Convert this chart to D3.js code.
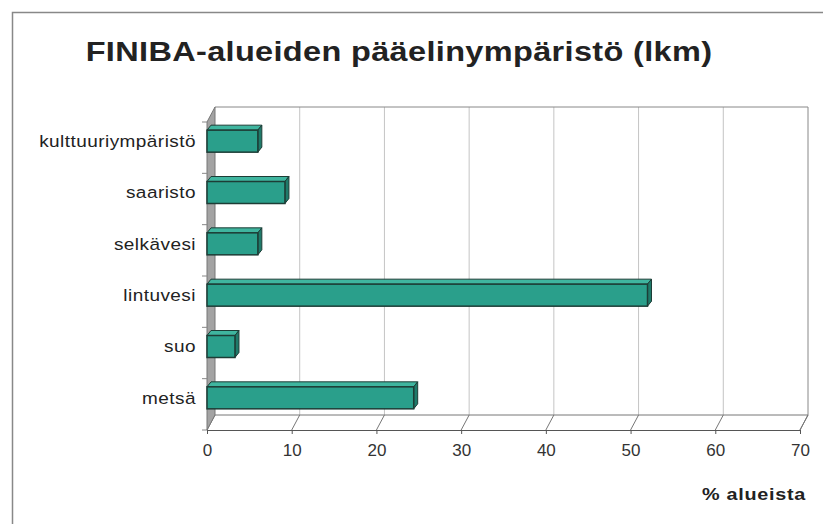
<!DOCTYPE html>
<html>
<head>
<meta charset="utf-8">
<script src="https://cdn.jsdelivr.net/npm/d3@7"></script>
<style>
  body { margin: 0; background: #fff; }
  svg { display: block; font-family: "Liberation Sans", Arial, sans-serif; }
</style>
</head>
<body>
<svg width="823" height="524"></svg>
<script>
const categories = ["kulttuuriympäristö", "saaristo", "selkävesi", "lintuvesi", "suo", "metsä"];
const values = [6, 9.2, 6, 52, 3.3, 24.4];
const xTicks = [0, 10, 20, 30, 40, 50, 60, 70];

const svg = d3.select("svg");

// outer frame (top + left only visible)
svg.append("path")
  .attr("d", "M823,12.5 H12.5 V524")
  .attr("fill", "none").attr("stroke", "#888").attr("stroke-width", 1.5);

// depth offset of the 3D box
const dx = 8, dy = -15;

const x = d3.scaleLinear().domain([0, 70]).range([207, 800]);
const y = d3.scaleBand().domain(categories).range([122, 430]);

const g = svg.append("g");

// back wall gridlines
g.selectAll(".grid").data(xTicks.slice(1, -1)).enter().append("line")
  .attr("x1", d => x(d) + dx).attr("x2", d => x(d) + dx)
  .attr("y1", 122 + dy).attr("y2", 430 + dy)
  .attr("stroke", "#c4c4c4").attr("stroke-width", 1);

// back wall outline (top + right)
g.append("path")
  .attr("d", `M${x(0) + dx},${122 + dy} H${x(70) + dx} V${430 + dy}`)
  .attr("fill", "none").attr("stroke", "#888").attr("stroke-width", 1);

// floor
g.append("path")
  .attr("d", `M${x(0) + dx},${430 + dy} H${x(70) + dx} L${x(70)},430`)
  .attr("fill", "none").attr("stroke", "#777").attr("stroke-width", 1);
g.selectAll(".floor").data(xTicks).enter().append("line")
  .attr("x1", d => x(d)).attr("y1", 430)
  .attr("x2", d => x(d) + dx).attr("y2", 430 + dy)
  .attr("stroke", "#777").attr("stroke-width", 1);

// left wall
g.append("path")
  .attr("d", `M${x(0)},122 L${x(0) + dx},${122 + dy} V${430 + dy} L${x(0)},430 Z`)
  .attr("fill", "#a3a3a3").attr("stroke", "#777").attr("stroke-width", 1);

// category ticks on left wall edge
g.selectAll(".ctick").data(d3.range(categories.length + 1)).enter().append("line")
  .attr("x1", x(0) - 5).attr("x2", x(0))
  .attr("y1", i => 122 + i * y.step()).attr("y2", i => 122 + i * y.step())
  .attr("stroke", "#888");

// x axis (front edge)
const xAxis = svg.append("g")
  .attr("transform", "translate(0,430)")
  .call(d3.axisBottom(x).tickValues(xTicks).tickSize(4).tickPadding(10));
xAxis.select(".domain").attr("stroke", "#555");
xAxis.selectAll(".tick line").attr("stroke", "#555");
xAxis.selectAll("text")
  .attr("font-size", 17).attr("fill", "#333")
  .attr("font-family", "Liberation Sans, Arial, sans-serif");

// bars: front face at mid depth, small box depth
const bh = 22, bdx = 4, bdy = -5, shiftY = -6.5;
const bars = g.selectAll(".bar").data(categories).enter().append("g");
bars.each(function (c, i) {
  const sel = d3.select(this);
  const x0 = x(0), x1 = x(values[i]);
  const yt = y(c) + y.bandwidth() / 2 + shiftY - bh / 2;
  const yb = yt + bh;
  // top face
  sel.append("path")
    .attr("d", `M${x0},${yt} L${x0 + bdx},${yt + bdy} H${x1 + bdx} L${x1},${yt} Z`)
    .attr("fill", "#3fb59f").attr("stroke", "#1d3d36").attr("stroke-width", 1);
  // side face
  sel.append("path")
    .attr("d", `M${x1},${yt} L${x1 + bdx},${yt + bdy} V${yb + bdy} L${x1},${yb} Z`)
    .attr("fill", "#1f7a6a").attr("stroke", "#1d3d36").attr("stroke-width", 1);
  // front face
  sel.append("rect")
    .attr("x", x0).attr("y", yt).attr("width", x1 - x0).attr("height", bh)
    .attr("fill", "#2a9f8b").attr("stroke", "#1d3d36").attr("stroke-width", 1.5);
});

// category labels (scan looks horizontally stretched)
svg.selectAll(".clabel").data(categories).enter().append("text")
  .attr("transform", d => `translate(196,${y(d) + y.bandwidth() / 2 + shiftY}) scale(1.15,1)`)
  .attr("dy", "0.35em")
  .attr("text-anchor", "end")
  .attr("font-size", 16.5).attr("letter-spacing", 0.4).attr("fill", "#222")
  .text(d => d);

// title
svg.append("text")
  .attr("transform", "translate(399,61) scale(1.16,1)")
  .attr("text-anchor", "middle")
  .attr("font-size", 28).attr("font-weight", "bold").attr("letter-spacing", 0.3).attr("fill", "#222")
  .text("FINIBA-alueiden pääelinympäristö (lkm)");

// axis title
svg.append("text")
  .attr("transform", "translate(806,500) scale(1.2,1)")
  .attr("text-anchor", "end")
  .attr("font-size", 16.5).attr("font-weight", "bold").attr("letter-spacing", 0.6).attr("fill", "#222")
  .text("% alueista");
</script>
</body>
</html>
